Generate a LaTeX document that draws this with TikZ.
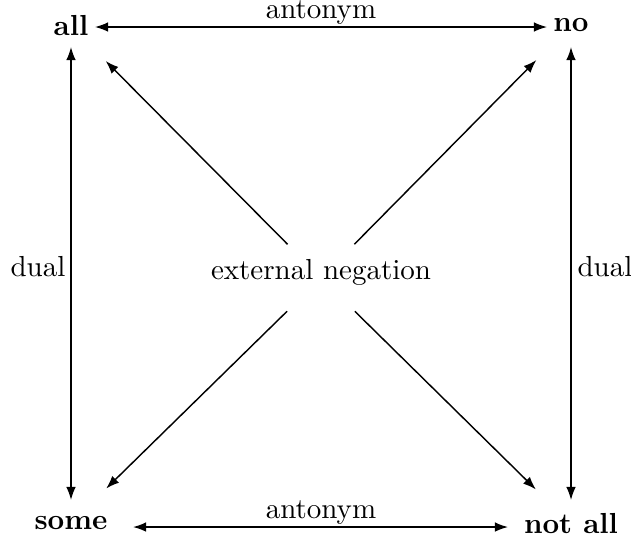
\documentclass[tikz,border=0pt]{standalone}
\usetikzlibrary{arrows.meta}
\begin{document}
\begin{tikzpicture}[x=0.345pt,y=-0.345pt, line width=0.5pt,
  corner/.style={font=\bfseries, inner sep=2.6pt, outer sep=0pt},
  lbl/.style={inner sep=0pt},
  tip/.style={-{Latex[length=4.5pt,width=3.3pt]}},
  bitip/.style={{Latex[length=4.5pt,width=3.3pt]}-{Latex[length=4.5pt,width=3.3pt]}}]
\useasboundingbox (0,0) rectangle (631,543);
\node[corner] (all) at (71,26) {all};
\node[corner] (no) at (571,25) {no};
\node[corner] (some) at (71,523) {some};
\node[corner] (notall) at (571,524) {not all};
\node[lbl] (neg) at (321,272) {external negation};
\coordinate (c) at (321,278);
\coordinate (b1) at (133,527);
\coordinate (b2) at (508,527);
\coordinate (t1) at (95,27);
\coordinate (t2) at (547,27);
\coordinate (l1) at (71,47);
\coordinate (l2) at (71,500);
\coordinate (r1) at (571,47);
\coordinate (r2) at (571,500);
% top and bottom antonyms
\draw[bitip] (t1) -- (t2);
\draw[bitip] (b1) -- (b2);
\node[lbl, anchor=base] (ant1) at (321,18.5) {antonym};
\node[lbl, anchor=base] (ant2) at (321,518) {antonym};
% duals
\draw[bitip] (l1) -- (l2);
\draw[bitip] (r1) -- (r2);
\node[lbl] (d1) at (38,267) {dual};
\node[lbl] (d2) at (605,267) {dual};
% external negation diagonals
\draw[tip, shorten <=16.4pt, shorten >=17pt] (c) -- (all.center);
\draw[tip, shorten <=16.4pt, shorten >=17pt] (c) -- (no.center);
\draw[tip, shorten <=16.4pt, shorten >=17pt] (c) -- (some.center);
\draw[tip, shorten <=16.4pt, shorten >=17pt] (c) -- (notall.center);
\end{tikzpicture}
\end{document}
